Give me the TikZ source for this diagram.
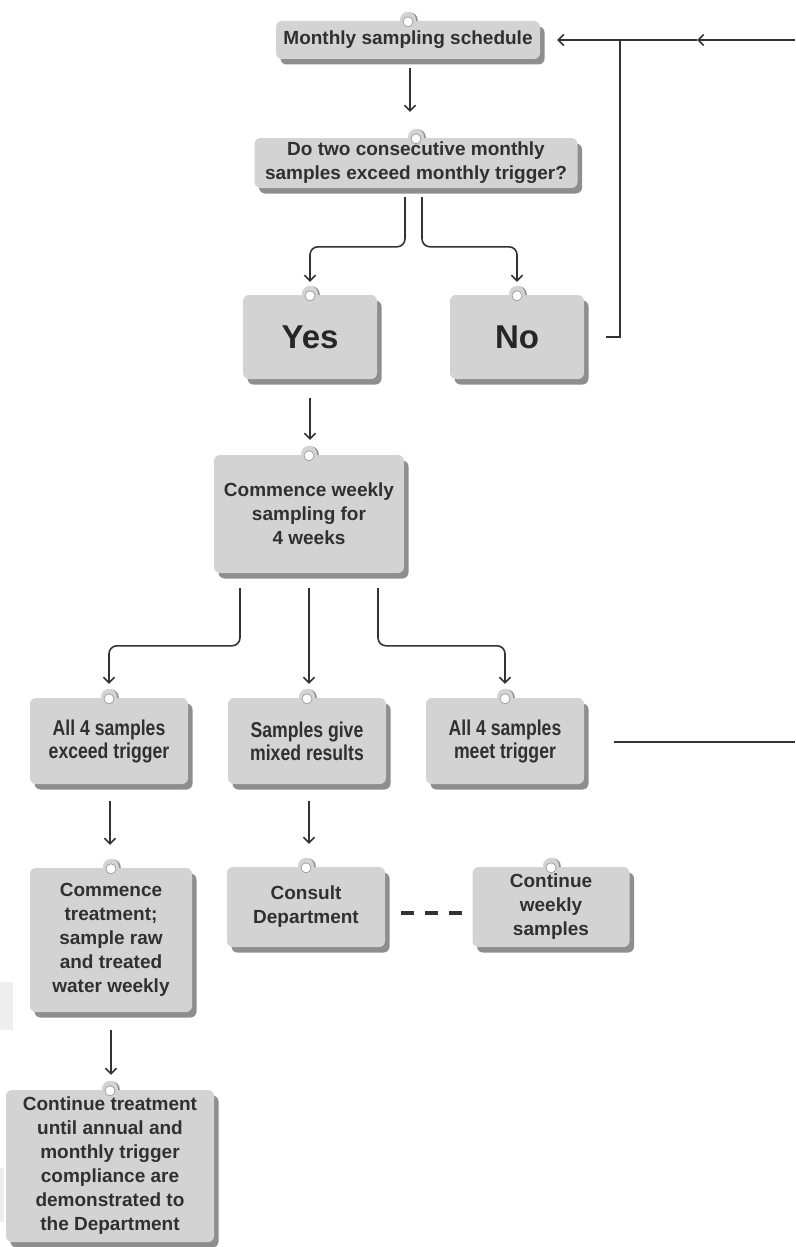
\documentclass[tikz,border=0pt]{standalone}
\usepackage{fontspec}
\setmainfont{Liberation Sans}
\newfontfamily\narrowfont{Liberation Sans}[FakeStretch=0.82]
\usetikzlibrary{arrows.meta,calc,shadows,backgrounds}
\definecolor{boxfill}{HTML}{D3D3D3}
\definecolor{boxshadow}{HTML}{8E8E8E}
\definecolor{txt}{HTML}{303030}
\definecolor{ln}{HTML}{333333}
\definecolor{faint}{HTML}{EEEEEE}
\newcommand\knob[1]{%
  \begin{pgfonlayer}{background}
    \fill[boxshadow] ($(#1.north)+(1.8,-0.5)$) circle (8pt);
    \fill[boxfill] ($(#1.north)+(0,-1)$) circle (8pt);
  \end{pgfonlayer}
  \filldraw[fill=white, draw=gray!80, line width=0.7pt] ($(#1.north)+(0,1)$) circle (5pt);
}
\begin{document}
\begin{tikzpicture}[x=1pt,y=-1pt,
  box/.style={fill=boxfill, rounded corners=6pt, align=center, text=txt, inner sep=0pt,
    font=\fontsize{19}{24}\selectfont\bfseries,
    drop shadow={shadow xshift=4.5pt, shadow yshift=-5.5pt, fill=boxshadow, opacity=1}},
  narrowbox/.style={box, font=\narrowfont\fontsize{21.5}{23}\selectfont\bfseries},
  bigbox/.style={box, font=\fontsize{33}{36}\selectfont\bfseries, text=black!85},
  line/.style={draw=ln, line width=1.6pt},
  arr/.style={line, -{Straight Barb[length=5.5pt,width=11pt]}},
  dashline/.style={draw=ln, line width=4pt, dash pattern=on 13pt off 11pt}
]
\useasboundingbox (0,0) rectangle (795,1247);
\fill[faint] (0,982) rectangle (13,1030);
\fill[faint] (0,1168) rectangle (4,1222);

\node[box, minimum width=264pt, minimum height=38pt] (m) at (408,40) {Monthly sampling schedule};
\node[box, minimum width=323pt, minimum height=50pt] (q) at (416,163) {Do two consecutive monthly\\samples exceed monthly trigger?};
\node[bigbox, minimum width=134pt, minimum height=84pt] (yes) at (310,337) {Yes};
\node[bigbox, minimum width=134pt, minimum height=84pt] (no) at (517,337) {No};
\node[box, minimum width=190pt, minimum height=118pt] (cw) at (309,514) {Commence weekly\\sampling for\\4 weeks};
\node[narrowbox, minimum width=158pt, minimum height=86pt] (a1) at (109,741) {All 4 samples\\exceed trigger};
\node[narrowbox, minimum width=158pt, minimum height=86pt] (a2) at (307,741) {Samples give\\mixed results};
\node[narrowbox, minimum width=158pt, minimum height=86pt] (a3) at (505,741) {All 4 samples\\meet trigger};
\node[box, minimum width=162pt, minimum height=144pt] (ct) at (111,940) {Commence\\treatment;\\sample raw\\and treated\\water weekly};
\node[box, minimum width=158pt, minimum height=80pt] (cd) at (306,907) {Consult\\Department};
\node[box, minimum width=157pt, minimum height=80pt] (cws) at (551,907) {Continue\\weekly\\samples};
\node[box, minimum width=208pt, minimum height=152pt] (fin) at (110,1166) {Continue treatment\\until annual and\\monthly trigger\\compliance are\\demonstrated to\\the Department};

\foreach \n in {m,q,yes,no,cw,a1,a2,a3,ct,cd,cws,fin} {\knob{\n}}

% connectors
\draw[arr] ($(m.south)+(2,9)$) -- ($(q.north)+(-6,-26)$);
\draw[arr, rounded corners=8pt] ($(q.south)+(-11,9)$) |- ($(yes.north)+(0,-48)$) -- ($(yes.north)+(0,-13)$);
\draw[arr, rounded corners=8pt] ($(q.south)+(6,9)$) |- ($(no.north)+(0,-48)$) -- ($(no.north)+(0,-13)$);
\draw[arr] ($(yes.south)+(0,19)$) -- ($(cw.north)+(1,-15)$);
\draw[arr, rounded corners=8pt] ($(cw.south)+(-69,15)$) |- ($(a1.north)+(0,-52)$) -- ($(a1.north)+(0,-14)$);
\draw[arr] ($(cw.south)+(0,15)$) -- ($(a2.north)+(2,-14)$);
\draw[arr, rounded corners=8pt] ($(cw.south)+(69,15)$) |- ($(a3.north)+(0,-52)$) -- ($(a3.north)+(0,-14)$);
\draw[arr] ($(a1.south)+(1,17)$) -- ($(ct.north)+(-1,-23)$);
\draw[arr] ($(a2.south)+(2,17)$) -- ($(cd.north)+(3,-23)$);
\draw[arr] ($(ct.south)+(0,18)$) -- ($(fin.north)+(1,-15)$);
\draw[dashline] ($(cd.east)+(16,6)$) -- ($(cws.west)+(-10,6)$);

% loop back to the monthly schedule
\coordinate (loopc) at (620,40);
\coordinate (midA) at (697,40);
\coordinate (edgeTop) at (795,40);
\coordinate (edgeR) at (795,742);
\draw[line] ($(no.east)+(22,0)$) -| (loopc);
\draw[arr] (loopc) -- ($(m.east)+(17,0)$);
\draw[arr] (edgeTop) -- (midA);
\draw[line] (midA) -- (loopc);
\draw[line] ($(a3.east)+(30,1)$) -- (edgeR);
\end{tikzpicture}
\end{document}
